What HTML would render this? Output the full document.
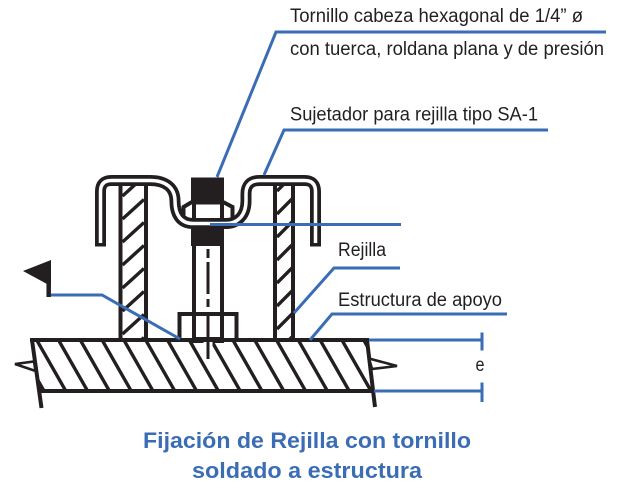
<!DOCTYPE html>
<html><head><meta charset="utf-8"><style>
html,body{margin:0;padding:0;background:#fff;}
svg{display:block;}
text{font-family:"Liberation Sans",Arial,sans-serif;}
</style></head><body>
<svg width="621" height="490" viewBox="0 0 621 490" xmlns="http://www.w3.org/2000/svg">
<defs>
<clipPath id="plateClip"><polygon points="33,342 366,342 371.5,389 40,389"/></clipPath>
<clipPath id="lbar"><rect x="122.5" y="184" width="21.5" height="155"/></clipPath>
<clipPath id="rbar"><rect x="277" y="184" width="14.5" height="155"/></clipPath>
</defs>
<rect width="621" height="490" fill="#fff"/>
<g stroke="#231f20" fill="none">
<!-- plate hatch -->
<g clip-path="url(#plateClip)" stroke-width="3.4">
<path d="M12.6,336 L46.3,395 M34.4,336 L68.1,395 M56.2,336 L89.9,395 M78,336 L111.7,395 M99.8,336 L133.5,395 M121.6,336 L155.3,395 M143.4,336 L177.1,395 M165.2,336 L198.9,395 M187,336 L220.7,395 M208.8,336 L242.5,395 M230.6,336 L264.3,395 M252.4,336 L286.1,395 M274.2,336 L307.9,395 M296,336 L329.7,395 M317.8,336 L351.5,395 M339.6,336 L373.3,395 M361.4,336 L395.1,395"/>
</g>
<!-- plate outline -->
<g stroke-width="4">
<path d="M30,340 L369,340"/>
<path d="M32,340 L41.5,408"/>
<path d="M367,340 L375,407"/>
<path d="M39,391 L373,391"/>
</g>
<!-- weld wedges -->
<polygon points="15,364 34,361.5 35.5,371" fill="#fff" stroke-width="2.6"/>
<polygon points="369,358.5 397,366 372,369" fill="#fff" stroke-width="2.6"/>
<!-- bars -->
<g stroke-width="4">
<path d="M120.5,184 L120.5,340 M146,184 L146,340"/>
<path d="M275,184 L275,340 M293,184 L293,340"/>
</g>
<g clip-path="url(#lbar)" stroke-width="3.4">
<path d="M122.5,173 L144,153.5 M122.5,196 L144,176.5 M122.5,219 L144,199.5 M122.5,242 L144,222.5 M122.5,265 L144,245.5 M122.5,288 L144,268.5 M122.5,311 L144,291.5 M122.5,334 L144,314.5 M122.5,357 L144,337.5"/>
</g>
<g clip-path="url(#rbar)" stroke-width="3.4">
<path d="M277,168 L292,153 M277,191 L292,176 M277,214 L292,199 M277,237 L292,222 M277,260 L292,245 M277,283 L292,268 M277,306 L292,291 M277,329 L292,314 M277,352 L292,337"/>
</g>
<!-- bolt shaft -->
<g stroke-width="4">
<path d="M194,246 L194,340 M222,246 L222,340"/>
</g>
<!-- bottom nut -->
<rect x="179.5" y="314" width="57" height="26" stroke-width="4" fill="none"/>
<path d="M194,314 L194,340 M222,314 L222,340" stroke-width="4"/>
<rect x="192" y="337" width="32" height="6" fill="#231f20" stroke="none"/>
<!-- centerline -->
<path d="M208,342 L208,359" stroke="#fff" stroke-width="9"/>
<path d="M208,249 L208,359" stroke-width="3" stroke-dasharray="9 4 32 5 8 5 60"/>
<!-- top nut -->
<path d="M183.5,220 L183.5,207 L191,202.5 L224,202.5 L232.5,207 L232.5,220" stroke-width="4" fill="#fff"/>
<path d="M194,202 L194,220 M222,202 L222,220" stroke-width="4"/>
<rect x="191" y="177.5" width="33" height="24.5" fill="#231f20" stroke="none"/>
<rect x="191" y="229" width="33" height="17" fill="#231f20" stroke="none"/>
<!-- clip strip -->
<path d="M100.5,246.5 L100.5,191.5 Q100.5,180.5 111.5,180.5 L150,180.5 C166,180.5 175,188 175,201 C175,215 181,223.5 193,223.5 L226,223.5 C238,223.5 246,215 246,201 L246,194 Q246,180.5 259.5,180.5 L304.5,180.5 Q315.5,180.5 315.5,191.5 L315.5,246.5" stroke-width="11" stroke-linejoin="round"/>
<path d="M100.5,243 L100.5,191.5 Q100.5,180.5 111.5,180.5 L150,180.5 C166,180.5 175,188 175,201 C175,215 181,223.5 193,223.5 L226,223.5 C238,223.5 246,215 246,201 L246,194 Q246,180.5 259.5,180.5 L304.5,180.5 Q315.5,180.5 315.5,191.5 L315.5,243" stroke="#fff" stroke-width="3.5" stroke-linejoin="round"/>
<!-- flag -->
<polygon points="23,271 51,260 51,284 47,284" fill="#231f20" stroke="none"/>
<path d="M48.7,262 L48.7,297" stroke-width="4.5"/>
</g>
<!-- blue leaders -->
<g stroke="#3a6db4" stroke-width="3" fill="none">
<path d="M606,32 L276,32 L217,177"/>
<path d="M548,130 L284,130 L264,175"/>
<path d="M210,224.5 L401,224.5"/>
<path d="M400,268 L334,268 L294,313"/>
<path d="M507,314 L332,314 L310,340"/>
<path d="M51,295 L102,295 L180,339"/>
<path d="M369,340 L482,340 M482,332.5 L482,350.5"/>
<path d="M374,391 L482,391 M482,382.5 L482,402"/>
</g>
<!-- labels -->
<g fill="#231f20" font-size="19">
<text x="290" y="22" textLength="293" lengthAdjust="spacingAndGlyphs">Tornillo cabeza hexagonal de 1/4” ø</text>
<text x="290" y="55" textLength="314" lengthAdjust="spacingAndGlyphs">con tuerca, roldana plana y de presión</text>
<text x="290" y="120.5" textLength="248" lengthAdjust="spacingAndGlyphs">Sujetador para rejilla tipo SA-1</text>
<text x="338" y="256" textLength="48" lengthAdjust="spacingAndGlyphs">Rejilla</text>
<text x="338" y="306" textLength="164" lengthAdjust="spacingAndGlyphs">Estructura de apoyo</text>
<text x="475.5" y="371" textLength="9" lengthAdjust="spacingAndGlyphs">e</text>
</g>
<g fill="#3a6db4" font-size="22" font-weight="bold">
<text x="143" y="448" textLength="328" lengthAdjust="spacingAndGlyphs">Fijación de Rejilla con tornillo</text>
<text x="192" y="478" textLength="230" lengthAdjust="spacingAndGlyphs">soldado a estructura</text>
</g>
</svg>
</body></html>
